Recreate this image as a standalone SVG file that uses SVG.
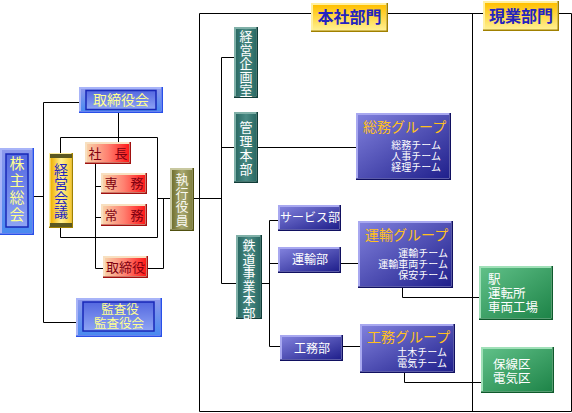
<svg xmlns="http://www.w3.org/2000/svg" width="572" height="413" viewBox="0 0 572 413">
<defs>
<linearGradient id="gBlue" x1="0" y1="0" x2="0" y2="1"><stop offset="0" stop-color="#5468e0"/><stop offset="1" stop-color="#8ea4f4"/></linearGradient>
<linearGradient id="gBlueO" x1="0" y1="0" x2="0" y2="1"><stop offset="0" stop-color="#8c98ec"/><stop offset="1" stop-color="#4a8af0"/></linearGradient>
<linearGradient id="gRed" x1="0" y1="0" x2="1" y2="0"><stop offset="0" stop-color="#f8d0a8"/><stop offset="0.5" stop-color="#ff8070"/><stop offset="1" stop-color="#ff1818"/></linearGradient>
<linearGradient id="gYel" x1="0" y1="0" x2="0" y2="1"><stop offset="0" stop-color="#ffc000"/><stop offset="1" stop-color="#fff090"/></linearGradient>
<linearGradient id="gYelV" x1="0" y1="0" x2="1" y2="0"><stop offset="0" stop-color="#f0b000"/><stop offset="0.5" stop-color="#fff090"/><stop offset="1" stop-color="#f8c830"/></linearGradient>
<linearGradient id="gOli" x1="0" y1="0" x2="1" y2="0"><stop offset="0" stop-color="#707030"/><stop offset="0.5" stop-color="#a8a870"/><stop offset="1" stop-color="#808040"/></linearGradient>
<linearGradient id="gTeal" x1="0" y1="0" x2="1" y2="0"><stop offset="0" stop-color="#2a6a64"/><stop offset="0.5" stop-color="#4a8a84"/><stop offset="1" stop-color="#2a6a64"/></linearGradient>
<linearGradient id="gNavy" x1="0" y1="0" x2="1" y2="1"><stop offset="0" stop-color="#8080dc"/><stop offset="1" stop-color="#20208c"/></linearGradient>
<linearGradient id="gGrn" x1="0" y1="0" x2="1" y2="1"><stop offset="0" stop-color="#60c088"/><stop offset="1" stop-color="#1e8448"/></linearGradient>
</defs>
<style>
.ln{fill:none;stroke:#000;stroke-width:1}
text{font-family:"Liberation Serif","Noto Sans CJK JP","Noto Sans CJK SC",sans-serif}
.v{font-family:"Noto Sans CJK JP","Noto Sans CJK SC",sans-serif;writing-mode:vertical-rl;text-anchor:start}
.c{text-anchor:middle}
.r{text-anchor:end}
.blue .sh{fill:#2850e8}.blue .hi{fill:#a8b4f8}.blue .body{fill:url(#gBlueO)}.blue .pan{fill:url(#gBlue);stroke:#1828b8;stroke-width:1.5}
.blue text{fill:#ffff90;font-size:14px}
.red .sh{fill:#a01010}.red .hi{fill:#f8e0c0}.red .body{fill:url(#gRed)}
.red text{fill:#800010;font-size:13px}
.yel .sh{fill:#a08000}.yel .hi{fill:#fff0a0}.yel .body{fill:url(#gYel)}
.yel text{fill:#2424c0;font-size:16px;font-weight:bold}
.oli .sh{fill:#505010}.oli .hi{fill:#c8c8a0}.oli .body{fill:url(#gOli)}
.oli text{fill:#f8f8f0;font-size:13px}
.teal .sh{fill:#103c38}.teal .hi{fill:#80b0a8}.teal .body{fill:url(#gTeal)}
.teal text{fill:#ffffff;font-size:13px}
.navy .sh{fill:#101060}.navy .hi{fill:#a8a8f0}.navy .body{fill:url(#gNavy)}
.navy text{fill:#ffffff;font-size:12px}
.navy .ttl{fill:#ffc020;font-size:14px}
.navy .sub{font-size:10px}
.grn .sh{fill:#0e5a2c}.grn .hi{fill:#a0e0b8}.grn .body{fill:url(#gGrn)}
.grn text{fill:#ffffff;font-size:12.5px}
</style>
<rect width="572" height="413" fill="#ffffff"/>
<g id="connectors" class="ln">
<path d="M43.5,102.5V322.5M43.5,102.5H79M43.5,322.5H76M34,196.5H43.5"/>
<path d="M60.5,153V137.5H157.5V237.5H60.5V228"/>
<path d="M118.5,113V142"/>
<path d="M95.5,164V268.5H103M95.5,186.5H101M95.5,217.5H101"/>
<path d="M157.5,198.5H170M163.5,198.5V268.5H148M194,198.5H221.5"/>
<path d="M199.5,13.5H311M388,13.5H483M559,13.5H571.5V411.5H199.5V13.5M472.5,13.5V411.5"/>
<path d="M221.5,57.5V283.5M221.5,57.5H234M221.5,147.5H234M258,147.5H356M221.5,283.5H236"/>
<path d="M262,283.5H269.5M269.5,220.5V346.5M269.5,220.5H278M269.5,263.5H278M269.5,346.5H280"/>
<path d="M341,263.5H358M343,346.5H360"/>
<path d="M402.5,288V297.5H479M404.5,373V382.5H481"/>
</g>
<g id="kabunushi" class="blue">
<rect x="0" y="148" width="34" height="87" class="sh"/><rect x="0" y="148" width="32.5" height="85.5" class="hi"/><rect x="2" y="150" width="30" height="83" class="body"/>
<rect x="6" y="154" width="22" height="73" class="pan"/>
<text class="v" x="17" y="156" style="font-size:15px;letter-spacing:2px">株主総会</text>
</g>
<g id="torishimariyakukai" class="blue">
<rect x="79" y="87" width="84" height="26" class="sh"/><rect x="79" y="87" width="82.5" height="24.5" class="hi"/><rect x="81" y="89" width="80" height="22" class="body"/>
<rect x="86" y="90.5" width="70" height="19" class="pan"/>
<text class="c" x="121" y="105">取締役会</text>
</g>
<g id="keiei-kaigi" class="yel">
<rect x="49" y="153" width="24" height="75" class="sh"/><rect x="49" y="153" width="22.5" height="73.5" class="hi"/><rect x="50.5" y="154.5" width="21" height="72" fill="url(#gYelV)"/>
<rect x="50" y="154" width="22" height="4" fill="#5c5820"/><rect x="50" y="223" width="22" height="4" fill="#5c5820"/>
<text class="v" x="61" y="163" style="font-size:14px;font-weight:normal">経営会議</text>
</g>
<g id="shacho" class="red">
<rect x="85" y="142" width="46" height="22" class="sh"/><rect x="85" y="142" width="44.5" height="20.5" class="hi"/><rect x="87" y="144" width="42" height="18" class="body"/>
<text class="c" x="108" y="158">社　長</text>
</g>
<g id="senmu" class="red">
<rect x="101" y="173" width="46" height="21" class="sh"/><rect x="101" y="173" width="44.5" height="19.5" class="hi"/><rect x="103" y="175" width="42" height="17" class="body"/>
<text class="c" x="124" y="188">専　務</text>
</g>
<g id="jomu" class="red">
<rect x="101" y="204" width="46" height="22" class="sh"/><rect x="101" y="204" width="44.5" height="20.5" class="hi"/><rect x="103" y="206" width="42" height="18" class="body"/>
<text class="c" x="124" y="220">常　務</text>
</g>
<g id="torishimariyaku" class="red">
<rect x="103" y="256" width="45" height="22" class="sh"/><rect x="103" y="256" width="43.5" height="20.5" class="hi"/><rect x="105" y="258" width="41" height="18" class="body"/>
<text class="c" x="125.5" y="272">取締役</text>
</g>
<g id="shikko-yakuin" class="oli">
<rect x="170" y="168" width="24" height="63" class="sh"/><rect x="170" y="168" width="22.5" height="61.5" class="hi"/><rect x="172" y="170" width="20" height="59" class="body"/>
<text class="v" x="182" y="173" style="letter-spacing:0.5px">執行役員</text>
</g>
<g id="kansayaku" class="blue">
<rect x="76" y="298" width="86" height="39" class="sh"/><rect x="76" y="298" width="84.5" height="37.5" class="hi"/><rect x="78" y="300" width="82" height="35" class="body"/>
<rect x="83" y="302" width="71" height="29" class="pan"/>
<text class="c" x="120" y="314" style="font-size:12.5px">監査役</text>
<text class="c" x="119" y="328" style="font-size:12.5px">監査役会</text>
</g>
<g id="honsha-bumon" class="yel">
<rect x="311" y="3" width="77" height="29" class="sh"/><rect x="311" y="3" width="75.5" height="27.5" class="hi"/><rect x="313" y="5" width="73" height="25" class="body"/>
<text class="c" x="349.5" y="23">本社部門</text>
</g>
<g id="genba-bumon" class="yel">
<rect x="483" y="1" width="76" height="30" class="sh"/><rect x="483" y="1" width="74.5" height="28.5" class="hi"/><rect x="485" y="3" width="72" height="26" class="body"/>
<text class="c" x="521" y="22">現業部門</text>
</g>
<g id="keiei-kikakushitsu" class="teal">
<rect x="234" y="27" width="24" height="71" class="sh"/><rect x="234" y="27" width="22.5" height="69.5" class="hi"/><rect x="236" y="29" width="20" height="67" class="body"/>
<text class="v" x="246" y="30" style="letter-spacing:0.5px">経営企画室</text>
</g>
<g id="kanri-honbu" class="teal">
<rect x="234" y="112" width="24" height="71" class="sh"/><rect x="234" y="112" width="22.5" height="69.5" class="hi"/><rect x="236" y="114" width="20" height="67" class="body"/>
<text class="v" x="246" y="121" style="letter-spacing:1px">管理本部</text>
</g>
<g id="tetsudo-jigyo-honbu" class="teal">
<rect x="236" y="235" width="26" height="84" class="sh"/><rect x="236" y="235" width="24.5" height="82.5" class="hi"/><rect x="238" y="237" width="22" height="80" class="body"/>
<text class="v" x="249" y="239" style="letter-spacing:0.5px">鉄道事業本部</text>
</g>
<g id="service-bu" class="navy">
<rect x="278" y="205" width="63" height="26" class="sh"/><rect x="278" y="205" width="61.5" height="24.5" class="hi"/><rect x="280" y="207" width="59" height="22" class="body"/>
<text class="c" x="310" y="222">サービス部</text>
</g>
<g id="unyu-bu" class="navy">
<rect x="278" y="247" width="63" height="26" class="sh"/><rect x="278" y="247" width="61.5" height="24.5" class="hi"/><rect x="280" y="249" width="59" height="22" class="body"/>
<text class="c" x="310" y="264">運輸部</text>
</g>
<g id="komu-bu" class="navy">
<rect x="280" y="335" width="63" height="26" class="sh"/><rect x="280" y="335" width="61.5" height="24.5" class="hi"/><rect x="282" y="337" width="59" height="22" class="body"/>
<text class="c" x="312" y="353">工務部</text>
</g>
<g id="somu-group" class="navy">
<rect x="356" y="113" width="95" height="67" class="sh"/><rect x="356" y="113" width="93.5" height="65.5" class="hi"/><rect x="358" y="115" width="91" height="63" class="body"/>
<text class="ttl" x="363" y="132">総務グループ</text>
<text class="r sub" x="441" y="149">総務チーム</text>
<text class="r sub" x="441" y="160.2">人事チーム</text>
<text class="r sub" x="441" y="171.4">経理チーム</text>
</g>
<g id="unyu-group" class="navy">
<rect x="358" y="221" width="95" height="67" class="sh"/><rect x="358" y="221" width="93.5" height="65.5" class="hi"/><rect x="360" y="223" width="91" height="63" class="body"/>
<text class="ttl" x="365" y="240">運輸グループ</text>
<text class="r sub" x="448" y="257">運輸チーム</text>
<text class="r sub" x="448" y="268.2">運輸車両チーム</text>
<text class="r sub" x="448" y="279.4">保安チーム</text>
</g>
<g id="komu-group" class="navy">
<rect x="360" y="324" width="95" height="49" class="sh"/><rect x="360" y="324" width="93.5" height="47.5" class="hi"/><rect x="362" y="326" width="91" height="45" class="body"/>
<text class="ttl" x="367" y="342">工務グループ</text>
<text class="r sub" x="447" y="356">土木チーム</text>
<text class="r sub" x="447" y="367.2">電気チーム</text>
</g>
<g id="eki" class="grn">
<rect x="479" y="266" width="74" height="54" class="sh"/><rect x="479" y="266" width="72.5" height="52.5" class="hi"/><rect x="481" y="268" width="70" height="50" class="body"/>
<text x="488" y="284">駅</text>
<text x="488" y="298">運転所</text>
<text x="488" y="312">車両工場</text>
</g>
<g id="hosenku" class="grn">
<rect x="481" y="347" width="73" height="46" class="sh"/><rect x="481" y="347" width="71.5" height="44.5" class="hi"/><rect x="483" y="349" width="69" height="42" class="body"/>
<text x="493" y="369">保線区</text>
<text x="493" y="383">電気区</text>
</g>
</svg>
